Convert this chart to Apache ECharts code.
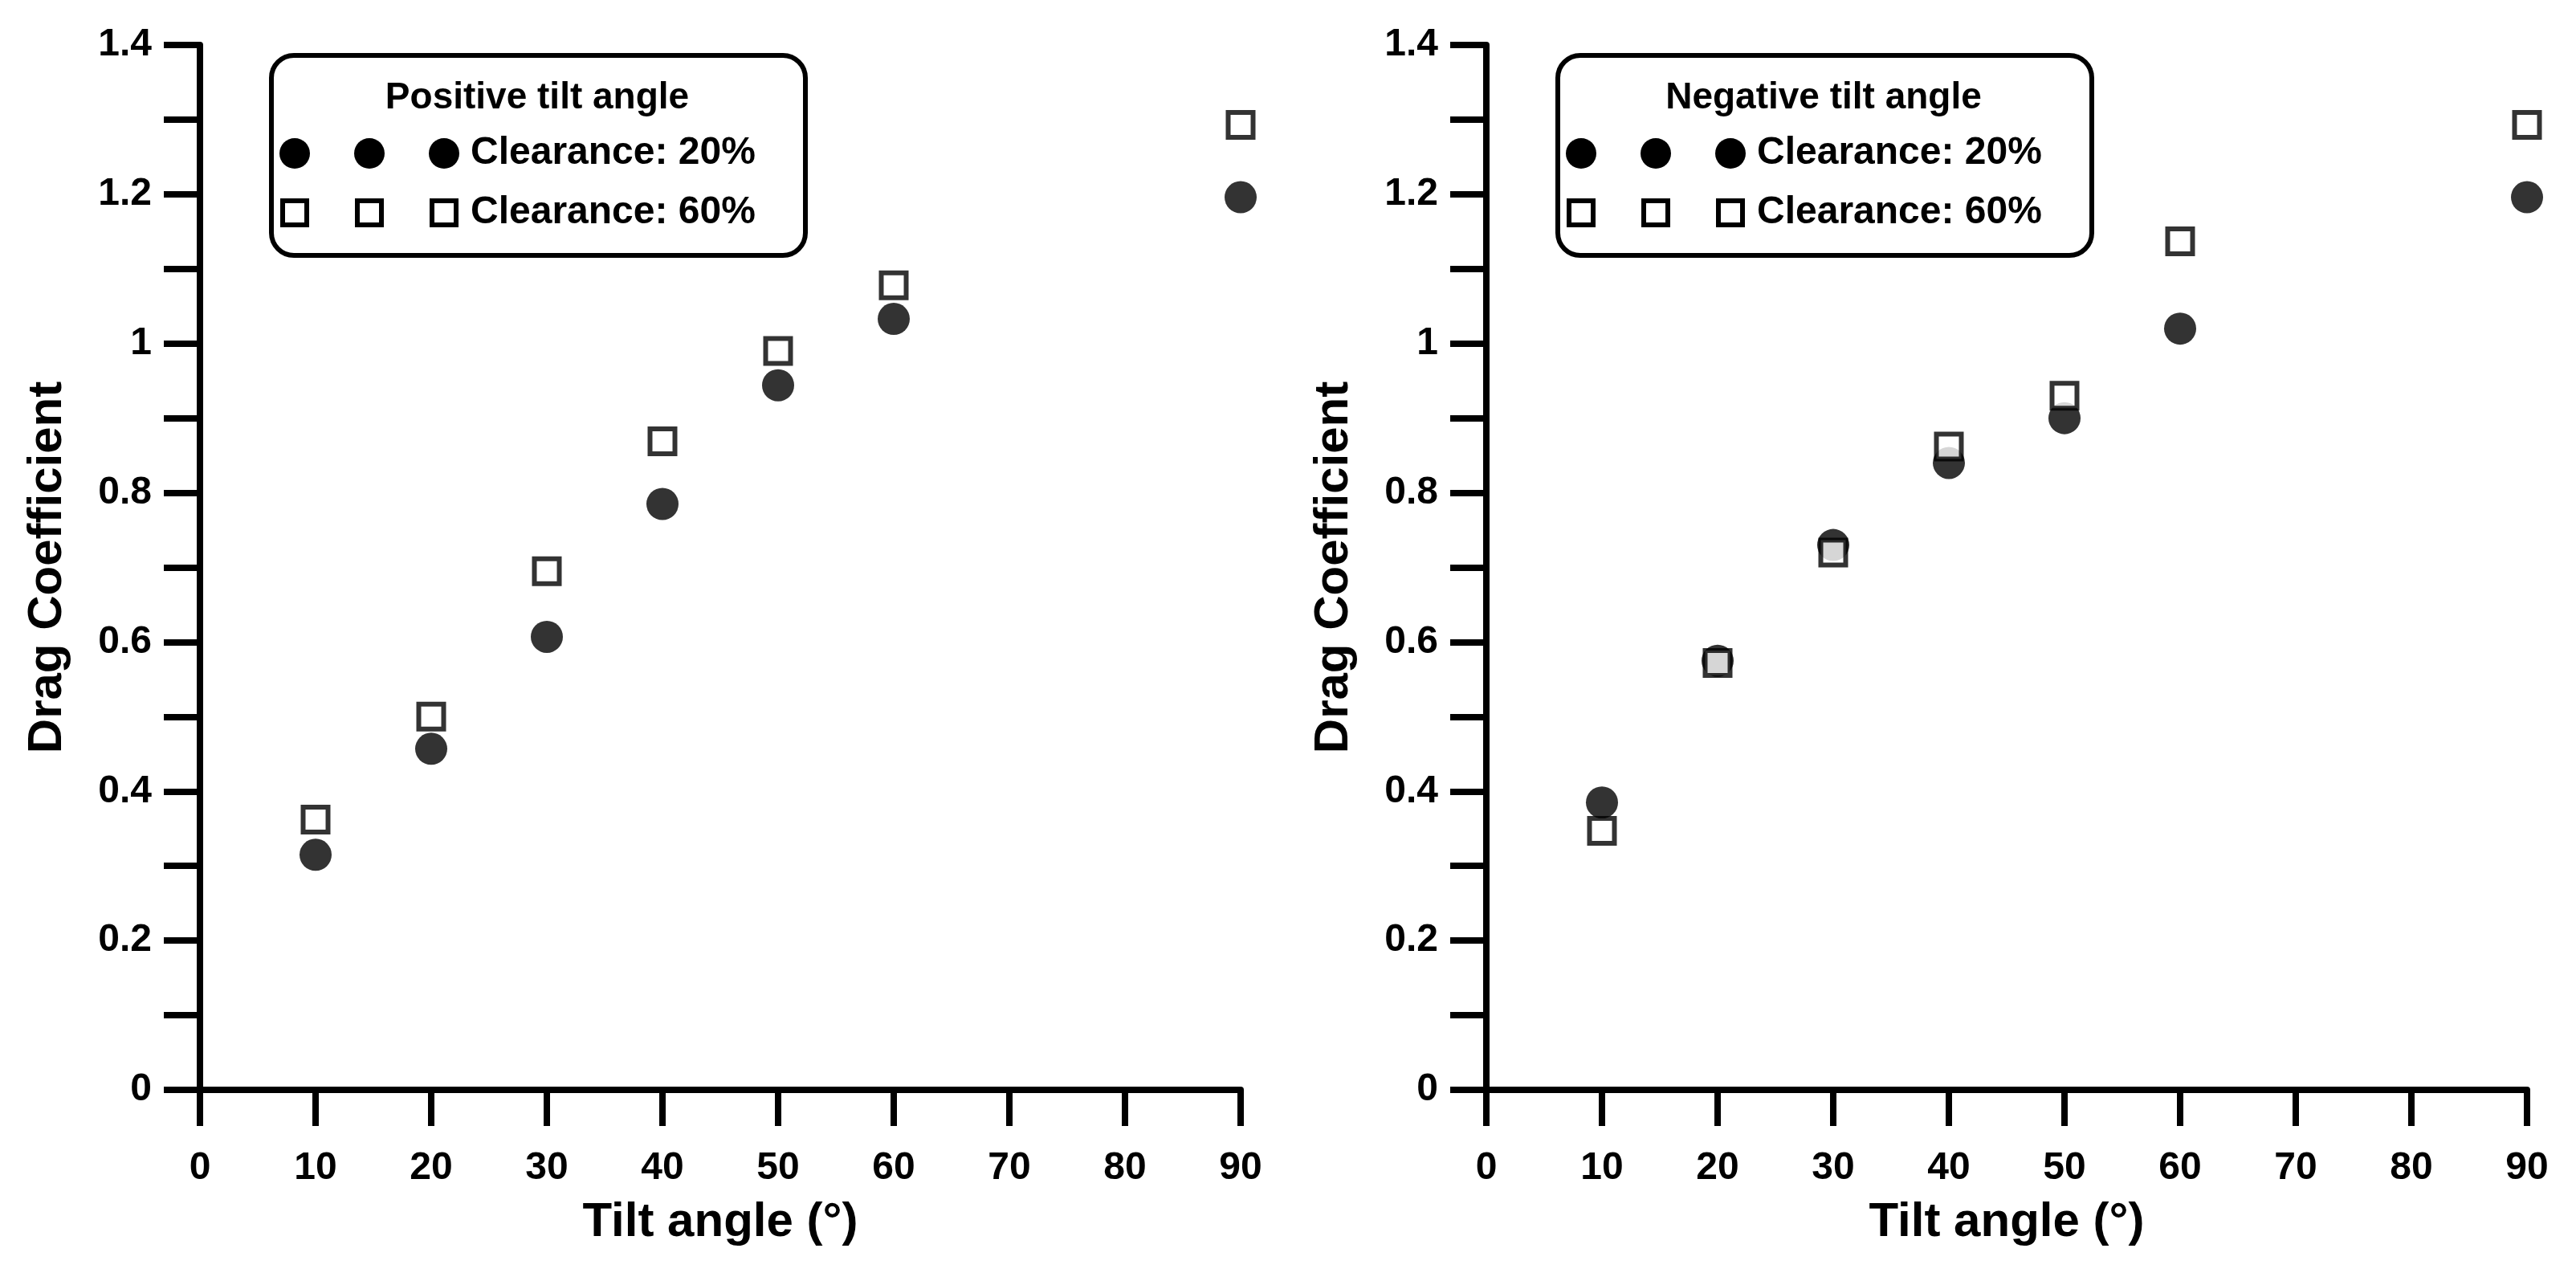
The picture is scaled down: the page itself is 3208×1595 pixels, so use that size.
<!DOCTYPE html>
<html><head><meta charset="utf-8">
<script src="https://cdn.jsdelivr.net/npm/echarts@6/dist/echarts.min.js"></script>
<style>html,body{margin:0;background:#fff}#c{width:3208px;height:1595px}</style>
</head><body><div id="c"></div>
<script>
const angles = [10, 20, 30, 40, 50, 60, 90];
const posC20 = [0.315, 0.457, 0.607, 0.785, 0.944, 1.033, 1.196];
const posC60 = [0.362, 0.500, 0.695, 0.869, 0.990, 1.078, 1.293];
const negC20 = [0.385, 0.575, 0.730, 0.840, 0.900, 1.020, 1.196];
const negC60 = [0.347, 0.572, 0.720, 0.862, 0.930, 1.137, 1.293];
const titles = ['Positive tilt angle', 'Negative tilt angle'];
const legendLabels = ['Clearance: 20%', 'Clearance: 60%'];

const chart = echarts.init(document.getElementById('c'));
const F = '"Liberation Sans", Arial, sans-serif';
const grids = [
  {left: 249, right: 1663, top: 56, bottom: 238},
  {left: 1851, right: 61, top: 56, bottom: 238}
];
function xAxis(i){return {gridIndex:i,type:'value',min:0,max:90,interval:10,
  name:'Tilt angle (°)',nameLocation:'middle',nameGap:135,
  nameTextStyle:{fontFamily:F,fontWeight:'bold',fontSize:60,color:'#000'},
  axisLine:{lineStyle:{color:'#000',width:8}},axisTick:{length:45,lineStyle:{color:'#000',width:8}},
  axisLabel:{fontFamily:F,fontWeight:'bold',fontSize:48,color:'#000',margin:74},splitLine:{show:false}};}
function yAxis(i){return {gridIndex:i,type:'value',min:0,max:1.4,interval:0.2,
  name:'Drag Coefficient',nameLocation:'middle',nameGap:160,
  nameTextStyle:{fontFamily:F,fontWeight:'bold',fontSize:60,color:'#000'},
  axisLine:{show:true,lineStyle:{color:'#000',width:8}},axisTick:{length:45,lineStyle:{color:'#000',width:8}},
  minorTick:{show:true,splitNumber:2,length:45,lineStyle:{color:'#000',width:8}},
  axisLabel:{fontFamily:F,fontWeight:'bold',fontSize:48,color:'#000',margin:60,
    formatter:v=>String(Math.round(v*10)/10)},splitLine:{show:false}};}
const pair = a => angles.map((x,i)=>[x,a[i]]);
function circ(i,d){return {type:'scatter',xAxisIndex:i,yAxisIndex:i,data:pair(d),symbol:'circle',symbolSize:40,
  itemStyle:{color:'#000'},z:3};}
function sq(i,d){return {type:'scatter',xAxisIndex:i,yAxisIndex:i,data:pair(d),symbol:'rect',symbolSize:31,
  itemStyle:{color:'#fff',borderColor:'#000',borderWidth:6},z:4};}

const graphic = [];
[0, 1602].forEach((dx,k)=>{
  const x0 = 338+dx;
  graphic.push({type:'rect',shape:{x:x0,y:69,width:665,height:249,r:28},style:{fill:'#fff',stroke:'#000',lineWidth:6},z:10});
  graphic.push({type:'text',style:{x:x0+331,y:122,text:titles[k],align:'center',verticalAlign:'middle',font:'bold 46px '+F,fill:'#000'},z:11});
  [0,1].forEach(r=>{
    const y = r===0?191:265;
    [367,460,553].forEach(mx=>{
      if(r===0) graphic.push({type:'circle',shape:{cx:mx+dx,cy:y,r:19},style:{fill:'#000'},z:11});
      else graphic.push({type:'rect',shape:{x:mx+dx-15,y:y-15,width:30,height:30},style:{fill:'#fff',stroke:'#000',lineWidth:6},z:11});
    });
    graphic.push({type:'text',style:{x:586+dx,y:y,text:legendLabels[r],align:'left',verticalAlign:'middle',font:'bold 48px '+F,fill:'#000'},z:11});
  });
});

chart.setOption({
  animation:false,
  grid:grids,
  xAxis:[xAxis(0),xAxis(1)],
  yAxis:[yAxis(0),yAxis(1)],
  series:[circ(0,posC20),sq(0,posC60),circ(1,negC20),sq(1,negC60)],
  graphic:graphic
});
</script></body></html>
